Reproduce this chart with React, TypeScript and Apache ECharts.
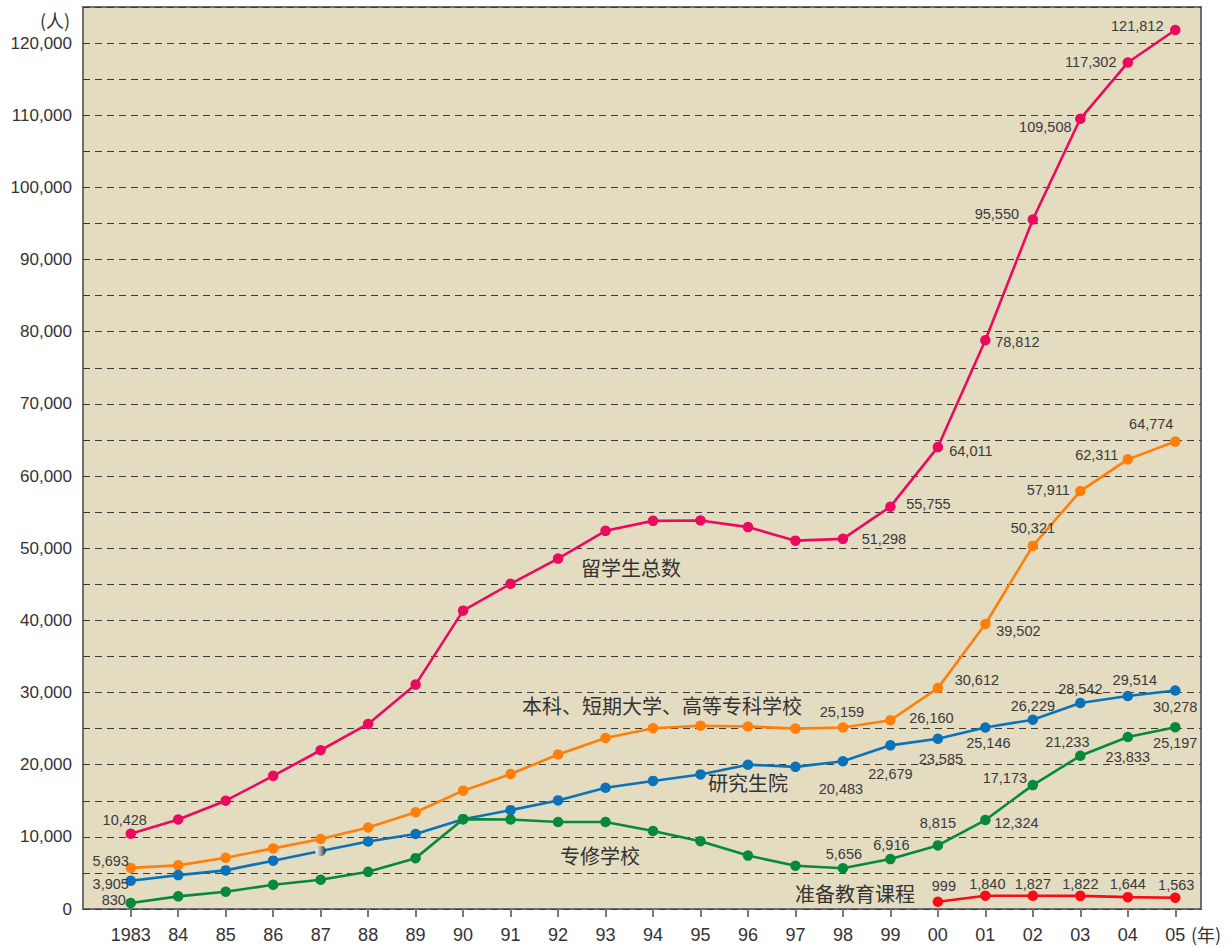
import React, { useEffect, useRef } from "react";
import * as echarts from "echarts";

const years = ["1983", "84", "85", "86", "87", "88", "89", "90", "91", "92", "93", "94", "95", "96", "97", "98", "99", "00", "01", "02", "03", "04", "05"];
const totalStudents = [10428, 12410, 15009, 18450, 22000, 25643, 31100, 41347, 45066, 48561, 52405, 53787, 53847, 52921, 51047, 51298, 55755, 64011, 78812, 95550, 109508, 117302, 121812];
const undergrad = [5693, 6050, 7100, 8400, 9700, 11300, 13400, 16400, 18700, 21400, 23700, 25050, 25400, 25300, 25000, 25159, 26160, 30612, 39502, 50321, 57911, 62311, 64774];
const graduate = [3905, 4700, 5350, 6700, 8050, 9350, 10400, 12450, 13700, 15050, 16800, 17750, 18650, 20000, 19700, 20483, 22679, 23585, 25146, 26229, 28542, 29514, 30278];
const vocational = [830, 1750, 2400, 3350, 4050, 5150, 7050, 12450, 12400, 12050, 12050, 10800, 9400, 7400, 6000, 5656, 6916, 8815, 12324, 17173, 21233, 23833, 25197];
const preparatory = [null, null, null, null, null, null, null, null, null, null, null, null, null, null, null, null, null, 999, 1840, 1827, 1822, 1644, 1563];

const seriesNames = ["留学生总数", "本科、短期大学、高等专科学校", "研究生院", "专修学校", "准备教育课程"];

const fmt = (v: number) => v.toLocaleString("en-US");

export default function App() {
  const ref = useRef<HTMLDivElement>(null);
  useEffect(() => {
    if (!ref.current) return;
    const chart = echarts.init(ref.current, undefined, { renderer: "svg" });

    const labelFont = "'Liberation Sans', sans-serif";
    const cjkFont = "'Noto Sans CJK SC', sans-serif";

    const offsets: Record<string, Record<number, [number, number]>> = {
      total: { 0: [-6, -14], 15: [41, 0], 16: [38, -3], 17: [33, 4], 18: [32, 2], 19: [-36, -6], 20: [-35, 8], 21: [-37, -1], 22: [-38, -4] },
      undergrad: { 0: [-20, -7], 15: [-1, -15], 16: [41, -2], 17: [39, -8], 18: [33, 7], 19: [0, -18], 20: [-32, -1], 21: [-31, -4], 22: [-24, -18] },
      graduate: { 0: [-20, 3], 15: [-2, 28], 16: [0, 29], 17: [3, 20], 18: [3, 15], 19: [0, -14], 20: [0, -14], 21: [7, -16], 22: [0, 16] },
      vocational: { 0: [-17, -3], 15: [1, -14], 16: [1, -14], 17: [0, -22], 18: [31, 3], 19: [-28, -7], 20: [-13, -14], 21: [0, 20], 22: [0, 16] },
      preparatory: { 17: [6, -16], 18: [2, -12], 19: [0, -12], 20: [0, -12], 21: [0, -13], 22: [1, -13] },
    };

    const makeSeries = (key: string, name: string, values: (number | null)[], color: string, special?: Record<number, any>) => ({
      type: "line",
      name,
      xAxisIndex: 1,
      yAxisIndex: 1,
      symbol: "circle",
      symbolSize: 10.5,
      lineStyle: { width: 2.6, color },
      itemStyle: { color },
      z: 3,
      label: {
        fontFamily: labelFont,
        fontSize: 14.5,
        color: "#3a3a3a",
        align: "center",
        verticalAlign: "middle",
        formatter: (p: any) => fmt(p.value),
      },
      data: values.map((v, i) => {
        if (v === null) return null;
        const off = offsets[key][i];
        const item: any = {
          value: v,
          label: off ? { show: true, position: "inside", offset: off } : { show: false },
        };
        if (special && special[i]) item.itemStyle = special[i];
        return item;
      }),
    });

    chart.setOption({
      animation: false,
      backgroundColor: "#ffffff",
      textStyle: { fontFamily: "'Liberation Sans', sans-serif" },
      grid: [
        { left: 83, right: 28, top: 7, bottom: 37, show: true, backgroundColor: "#e3dcc0", borderColor: "#6e6e6e", borderWidth: 2 },
        { left: 107, right: 30, top: 7, bottom: 37 },
      ],
      xAxis: [
        { gridIndex: 0, type: "category", data: years, show: false },
        {
          gridIndex: 1,
          type: "category",
          data: years,
          boundaryGap: true,
          axisLine: { show: false },
          axisTick: { show: true, alignWithLabel: true, interval: 0, length: 8, lineStyle: { color: "#7a7a7a", width: 2 } },
          axisLabel: { interval: 0, fontSize: 18, margin: 17, color: "#333333", fontFamily: "'Liberation Sans', sans-serif" },
        },
      ],
      yAxis: [
        {
          gridIndex: 0,
          type: "value",
          min: 0,
          max: 125000,
          interval: 5000,
          axisLine: { show: false },
          axisTick: { show: false },
          axisLabel: {
            fontSize: 17,
            margin: 11,
            color: "#333333",
            fontFamily: "'Liberation Sans', sans-serif",
            formatter: (v: number) => (v % 10000 === 0 ? fmt(v) : ""),
          },
          splitLine: { show: true, lineStyle: { type: [7, 5], color: "#3a3a3a", width: 1 } },
        },
        { gridIndex: 1, type: "value", min: 0, max: 125000, show: false },
      ],
      series: [
        makeSeries("total", seriesNames[0], totalStudents, "#ea0a5e"),
        makeSeries("undergrad", seriesNames[1], undergrad, "#ff7f0a"),
        makeSeries("graduate", seriesNames[2], graduate, "#0a72b8", {
          4: {
            color: new echarts.graphic.LinearGradient(0, 0, 1, 0, [
              { offset: 0, color: "#ffffff" },
              { offset: 0.5, color: "#a0a0a0" },
              { offset: 1, color: "#303030" },
            ]),
          },
        }),
        makeSeries("vocational", seriesNames[3], vocational, "#07893c"),
        makeSeries("preparatory", seriesNames[4], preparatory, "#fa0a14"),
      ],
      graphic: [
        { type: "text", left: 40, top: 11, style: { text: "(人)", font: `18px ${cjkFont}`, fill: "#333333" } },
        { type: "text", left: 1191, top: 925, style: { text: "(年)", font: `18px ${cjkFont}`, fill: "#333333" } },
        { type: "text", left: 581, top: 557, style: { text: seriesNames[0], font: `20px ${cjkFont}`, fill: "#333333" } },
        { type: "text", left: 522, top: 695, style: { text: seriesNames[1], font: `20px ${cjkFont}`, fill: "#333333" } },
        { type: "text", left: 708, top: 772, style: { text: seriesNames[2], font: `20px ${cjkFont}`, fill: "#333333" } },
        { type: "text", left: 560, top: 845, style: { text: seriesNames[3], font: `20px ${cjkFont}`, fill: "#333333" } },
        { type: "text", left: 795, top: 883, style: { text: seriesNames[4], font: `20px ${cjkFont}`, fill: "#333333" } },
      ],
    });
    return () => chart.dispose();
  }, []);
  return <div ref={ref} style={{ position: "fixed", left: 0, top: 0, width: 1229, height: 946 }} />;
}
